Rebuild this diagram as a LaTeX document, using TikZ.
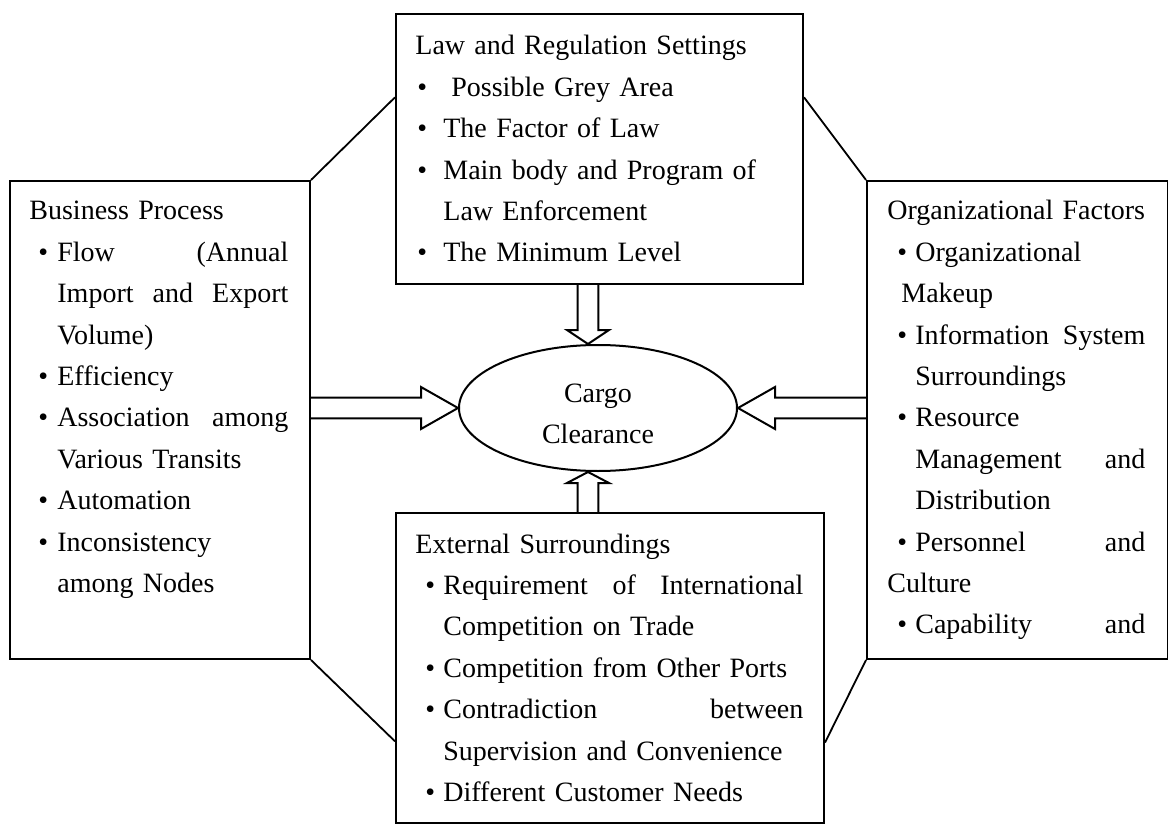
\documentclass[tikz,border=0pt]{standalone}
\usepackage{fontspec}
\setmainfont{Liberation Serif}
\usepackage{tikz}
\usetikzlibrary{calc,shapes.geometric}

\tikzset{
  box/.style={draw, line width=1pt, anchor=north west, inner sep=0pt},
  txt/.style={anchor=base west, inner sep=0pt, align=left, font=\fontsize{14pt}{20.7pt}\selectfont},
  edge/.style={line width=0.9pt},
  fat/.style={draw, line width=1pt, line join=miter},
}
\newcommand{\bul}[1]{\makebox[14pt][l]{\hspace{#1}\textbullet}}
% #1 head length, #2 start, #3 tip
\newcommand{\fatarrow}[3]{%
  \coordinate (fa) at ($(#3)!#1!(#2)$);
  \draw[fat] ($(#2)!5.2pt!90:(#3)$) -- ($(fa)!5.2pt!90:(#3)$) -- ($(fa)!10.5pt!90:(#3)$) -- (#3)
    -- ($(fa)!10.5pt!-90:(#3)$) -- ($(fa)!5.2pt!-90:(#3)$) -- ($(#2)!5.2pt!-90:(#3)$);
}

\begin{document}
\begin{tikzpicture}[x=0.5pt, y=-0.5pt]
  \useasboundingbox (0,0) rectangle (1168,824);

  % boxes
  \node[box, minimum width=203.5pt, minimum height=135pt] (law) at (395,13) {};
  \node[box, minimum width=150pt, minimum height=239pt] (biz) at (9,180) {};
  \node[box, minimum width=150.5pt, minimum height=239pt] (org) at (866,180) {};
  \node[box, minimum width=214pt, minimum height=155pt] (ext) at (395,512) {};
  \node[draw, line width=1pt, ellipse, minimum width=139pt, minimum height=63pt, inner sep=0pt] (cargo) at (598,408) {};
  \node[align=center, inner sep=0pt, font=\fontsize{14pt}{20.7pt}\selectfont] (cargotxt)
    at ($(cargo.center)+(0,6)$) {Cargo\\Clearance};

  % Law and regulation
  \node[txt, text width=180pt] (lawtxt) at (415,55) {Law and Regulation Settings\\
    \bul{1pt}\hspace{4pt}Possible Grey Area\\
    \bul{1pt}The Factor of Law\\
    \bul{1pt}Main body and Program of\\
    \hspace*{14pt}Law Enforcement\\
    \bul{1pt}The Minimum Level};

  % Business process
  \node[txt, text width=129.5pt] (biztxt) at (29,220) {Business Process\\
    \bul{4.5pt}Flow\hfill(Annual\\
    \hspace*{14pt}Import\hfill and\hfill Export\\
    \hspace*{14pt}Volume)\\
    \bul{4.5pt}Efficiency\\
    \bul{4.5pt}Association\hfill among\\
    \hspace*{14pt}Various Transits\\
    \bul{4.5pt}Automation\\
    \bul{4.5pt}Inconsistency\\
    \hspace*{14pt}among Nodes};

  % Organizational factors
  \node[txt, text width=129pt] (orgtxt) at (887,220) {Organizational Factors\\
    \bul{5pt}Organizational\\
    \hspace*{7pt}Makeup\\
    \bul{5pt}Information\hfill System\\
    \hspace*{14pt}Surroundings\\
    \bul{5pt}Resource\\
    \hspace*{14pt}Management\hfill and\\
    \hspace*{14pt}Distribution\\
    \bul{5pt}Personnel\hfill and\\
    Culture\\
    \bul{5pt}Capability\hfill and};

  % External surroundings
  \node[txt, text width=194pt] (exttxt) at (415,553) {External Surroundings\\
    \bul{5pt}Requirement\hfill of\hfill International\\
    \hspace*{14pt}Competition on Trade\\
    \bul{5pt}Competition from Other Ports\\
    \bul{5pt}Contradiction\hfill between\\
    \hspace*{14pt}Supervision and Convenience\\
    \bul{5pt}Different Customer Needs};

  % diagonals
  \draw[edge] (biz.north east) -- ($(law.north west)!0.31!(law.south west)$);
  \draw[edge] ($(law.north east)!0.31!(law.south east)$) -- (org.north west);
  \draw[edge] (biz.south east) -- ($(ext.north west)!0.735!(ext.south west)$);
  \draw[edge] ($(ext.north east)!0.739!(ext.south east)$) -- (org.south west);

  % arrows
  \coordinate (lft) at (biz.east |- cargo.west);
  \coordinate (rgt) at (org.west |- cargo.east);
  \coordinate (ctop) at ($(cargo.north)+(-10,0)$);
  \coordinate (cbot) at ($(cargo.south)+(-10,0)$);
  \coordinate (ttop) at (law.south -| ctop);
  \coordinate (tbot) at (ext.north -| cbot);
  \fatarrow{18.5pt}{lft}{cargo.west}
  \fatarrow{18.5pt}{rgt}{cargo.east}
  \fatarrow{7pt}{ttop}{ctop}
  \fatarrow{5.5pt}{tbot}{cbot}
\end{tikzpicture}
\end{document}
